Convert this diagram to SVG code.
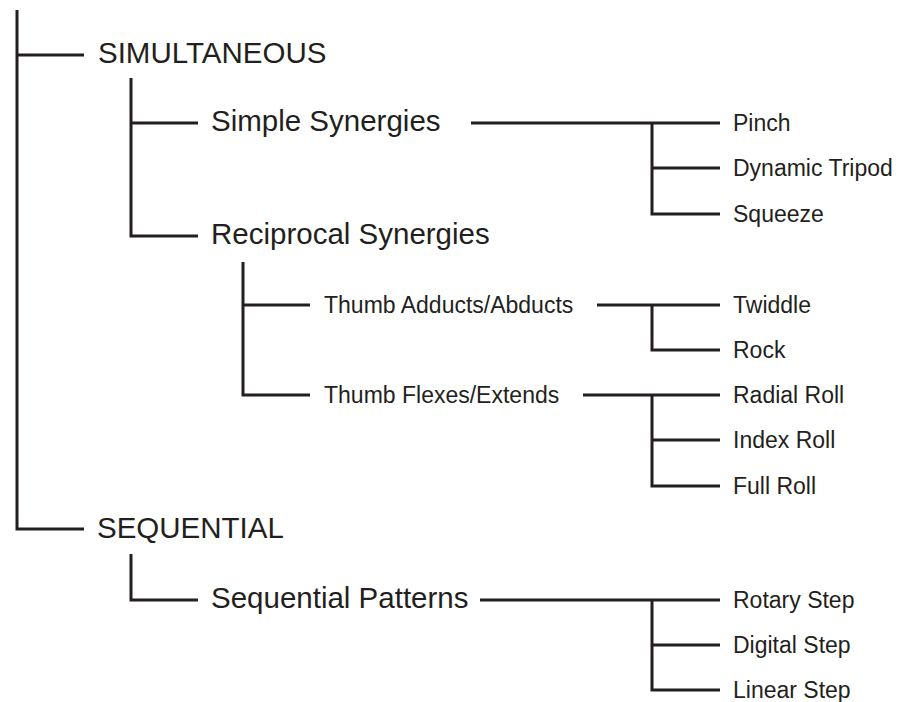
<svg xmlns="http://www.w3.org/2000/svg" width="899" height="702" viewBox="0 0 899 702">
<style>
.ln{stroke:#231f20;stroke-width:3;fill:none;stroke-linecap:butt;stroke-linejoin:miter}
.lg{font-family:"Liberation Sans",Arial,sans-serif;font-size:29.5px;fill:#231f20}
.sm{font-family:"Liberation Sans",Arial,sans-serif;font-size:23px;fill:#231f20}
</style>
<rect width="899" height="702" fill="#ffffff"/>
<g id="connectors">
<path class="ln" d="M17,10 V529 H84 M17,55 H84"/>
<path class="ln" d="M131,78 V236 H198 M131,123 H198"/>
<path class="ln" d="M471,123 H720 M652,123 V214 H720 M652,168 H720"/>
<path class="ln" d="M243,262 V395 H310 M243,305 H310"/>
<path class="ln" d="M597,305 H720 M652,305 V350 H720"/>
<path class="ln" d="M583,395 H720 M652,395 V486 H720 M652,440 H720"/>
<path class="ln" d="M131,554 V600 H198"/>
<path class="ln" d="M480,600 H720 M652,600 V690 H720 M652,645 H720"/>
</g>
<g id="simultaneous"><text class="lg" x="98" y="63">SIMULTANEOUS</text></g>
<g id="simple-synergies"><text class="lg" x="211" y="131">Simple Synergies</text></g>
<g id="pinch"><text class="sm" x="733" y="131">Pinch</text></g>
<g id="dynamic-tripod"><text class="sm" x="733" y="176">Dynamic Tripod</text></g>
<g id="squeeze"><text class="sm" x="733" y="222">Squeeze</text></g>
<g id="reciprocal-synergies"><text class="lg" x="211" y="244">Reciprocal Synergies</text></g>
<g id="thumb-adducts"><text class="sm" x="324" y="313">Thumb Adducts/Abducts</text></g>
<g id="twiddle"><text class="sm" x="733" y="313">Twiddle</text></g>
<g id="rock"><text class="sm" x="733" y="358">Rock</text></g>
<g id="thumb-flexes"><text class="sm" x="324" y="403">Thumb Flexes/Extends</text></g>
<g id="radial-roll"><text class="sm" x="733" y="403">Radial Roll</text></g>
<g id="index-roll"><text class="sm" x="733" y="448">Index Roll</text></g>
<g id="full-roll"><text class="sm" x="733" y="494">Full Roll</text></g>
<g id="sequential"><text class="lg" x="97" y="538">SEQUENTIAL</text></g>
<g id="sequential-patterns"><text class="lg" x="211" y="608">Sequential Patterns</text></g>
<g id="rotary-step"><text class="sm" x="733" y="608">Rotary Step</text></g>
<g id="digital-step"><text class="sm" x="733" y="653">Digital Step</text></g>
<g id="linear-step"><text class="sm" x="733" y="698">Linear Step</text></g>
</svg>
